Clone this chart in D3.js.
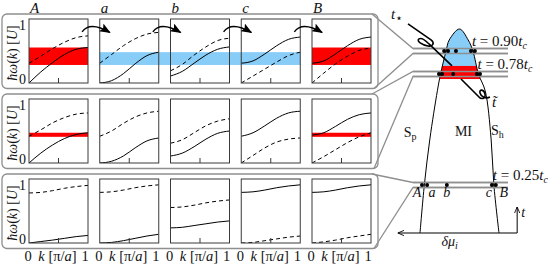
<!DOCTYPE html>
<html>
<head>
<meta charset="utf-8">
<script src="https://cdn.jsdelivr.net/npm/d3@7"></script>
<style>
  body { margin: 0; background: #fff; }
  svg { display: block; }
  text { font-family: "Liberation Serif", "DejaVu Serif", serif; fill: #111; }
</style>
</head>
<body>
<svg id="chart" width="551" height="266"></svg>
<script>
// ---- data ----
const columns = ["A", "a", "b", "c", "B"]
const rowTemps = [0.90, 0.78, 0.25]          // t / t_c of each row
const kSamples = [0, 0.2, 0.4, 0.6, 0.8, 1]  // k in units of pi/a
const yTicks = [0, 1]
const kTicks = [0, 1]

// solid branch, rows top to bottom, one list per column
const solidRows = [
  [[0, 0.19, 0.35, 0.49, 0.58, 0.61], [0, 0.04, 0.16, 0.33, 0.47, 0.53], [0.12, 0.20, 0.34, 0.48, 0.58, 0.62], [0.34, 0.38, 0.50, 0.64, 0.75, 0.79], [0.34, 0.38, 0.50, 0.64, 0.75, 0.79]],
  [[0, 0.17, 0.31, 0.42, 0.49, 0.52], [0, 0.03, 0.12, 0.26, 0.38, 0.43], [0.12, 0.17, 0.28, 0.41, 0.51, 0.55], [0.46, 0.52, 0.64, 0.77, 0.86, 0.89], [0.48, 0.52, 0.63, 0.75, 0.83, 0.86]],
  [[0, 0.025, 0.05, 0.08, 0.11, 0.13], [0, 0.01, 0.04, 0.08, 0.12, 0.15], [0.26, 0.27, 0.30, 0.33, 0.36, 0.38], [0.87, 0.88, 0.91, 0.95, 0.98, 1.0], [0.87, 0.88, 0.91, 0.95, 0.98, 1.0]]
]
// dashed branch
const dashedRows = [
  [[0.34, 0.46, 0.59, 0.70, 0.78, 0.81], [0.34, 0.49, 0.64, 0.76, 0.84, 0.87], [0.21, 0.32, 0.48, 0.62, 0.73, 0.77], [0, 0.12, 0.24, 0.36, 0.47, 0.53], [0, 0.17, 0.33, 0.46, 0.56, 0.60]],
  [[0.46, 0.57, 0.69, 0.78, 0.84, 0.86], [0.46, 0.55, 0.68, 0.79, 0.86, 0.89], [0.34, 0.40, 0.52, 0.64, 0.72, 0.76], [0, 0.13, 0.26, 0.36, 0.41, 0.43], [0, 0.11, 0.23, 0.35, 0.45, 0.52]],
  [[0.86, 0.87, 0.90, 0.94, 0.97, 0.99], [0.87, 0.88, 0.91, 0.95, 0.98, 1.0], [0.61, 0.62, 0.65, 0.69, 0.72, 0.74], [0, 0.01, 0.04, 0.07, 0.10, 0.12], [0, 0.02, 0.05, 0.09, 0.12, 0.15]]
]
// red band (columns A and B) per row, blue band (columns a..c) in top row
const redBands = [[0.31, 0.61], [0.45, 0.52], null]
const blueBand = [0.31, 0.53]

// phase diagram: boundaries in (delta mu, t/t_c)
const boundaryT = [0, 0.25, 0.47, 0.70, 0.78, 0.90, 0.95, 1.0]
const leftMu = [-1.0, -0.89, -0.75, -0.56, -0.48, -0.34, -0.26, 0]
const rightMu = [1.0, 0.87, 0.80, 0.65, 0.48, 0.34, 0.22, 0]
const tStar = 0.822
const tTilde = 0.756
// dots A a b c B on each cut
const dotMu = [
  [-0.39, -0.29, -0.09, 0.29, 0.39],
  [-0.52, -0.44, -0.16, 0.44, 0.52],
  [-0.95, -0.82, -0.32, 0.82, 0.92]
]

// ---- layout ----
const svg = d3.select("#chart")
svg.append("rect").attr("width", 551).attr("height", 266).attr("fill", "#fff")

const panelW = 59
const panelH = 64
const colX = d3.scaleLinear().domain([0, 4]).range([29, 312])
const rowY = [19, 99, 179]
const grey = "#8f8f8f"

const muX = d3.scaleLinear().domain([-1, 1]).range([420, 499])
const ty = d3.scaleLinear().domain([0, 0.25, 0.78, 0.90, 1]).range([233, 185, 74, 51, 29])
const rightEdge = d3.scaleLinear().domain(boundaryT).range(rightMu)

const defs = svg.append("defs")
defs.append("marker")
  .attr("id", "head")
  .attr("viewBox", "0 0 10 8")
  .attr("refX", 9).attr("refY", 4)
  .attr("markerWidth", 11).attr("markerHeight", 9)
  .attr("markerUnits", "userSpaceOnUse")
  .attr("orient", "auto")
  .append("path").attr("d", "M0,0 L10,4 L0,8 L2,4 Z").attr("fill", "#000")
defs.append("marker")
  .attr("id", "small")
  .attr("viewBox", "0 0 8 8")
  .attr("refX", 7).attr("refY", 4)
  .attr("markerWidth", 7).attr("markerHeight", 7)
  .attr("markerUnits", "userSpaceOnUse")
  .attr("orient", "auto")
  .append("path").attr("d", "M0,1 L7,4 L0,7").attr("fill", "none").attr("stroke", "#000").attr("stroke-width", 1)

// ---- row boxes and connectors ----
rowTemps.forEach((t, r) => {
  const top = rowY[r] - 5
  const bot = rowY[r] + panelH + 5.5
  svg.append("rect")
    .attr("x", 2).attr("y", top)
    .attr("width", 376).attr("height", bot - top)
    .attr("rx", 5)
    .attr("fill", "none").attr("stroke", grey).attr("stroke-width", 1.3)
  const yc = ty(t)
  svg.append("path")
    .attr("d", `M372,${top} L413,${yc - 2.5} L508,${yc - 2.5} M374,${bot} L413,${yc + 2.5} L508,${yc + 2.5}`)
    .attr("fill", "none").attr("stroke", grey).attr("stroke-width", 1.3)
})

// ---- phase diagram ----
const domePts = boundaryT.map((t, i) => [leftMu[i], t])
  .concat(boundaryT.slice(0, -1).map((t, i) => [rightMu[i], t]).reverse())
const domeLine = d3.line()
  .x(d => muX(d[0]))
  .y(d => ty(d[1]))
  .curve(d3.curveCatmullRom.alpha(0.5))

defs.append("clipPath").attr("id", "dome")
  .append("path").attr("d", domeLine(domePts) + "Z")

const fills = svg.append("g").attr("clip-path", "url(#dome)")
fills.append("rect")
  .attr("x", muX(-1.2)).attr("width", muX(1.2) - muX(-1.2))
  .attr("y", ty(1.0) - 2).attr("height", ty(tStar) - ty(1.0) + 2)
  .attr("fill", "#87cdf7")
fills.append("rect")
  .attr("x", muX(-1.2)).attr("width", muX(1.2) - muX(-1.2))
  .attr("y", ty(tStar)).attr("height", ty(tTilde) - ty(tStar))
  .attr("fill", "#ff0000")

svg.append("path")
  .attr("d", domeLine(domePts))
  .attr("fill", "none").attr("stroke", "#000").attr("stroke-width", 1)

// redraw the cut lines over the fills
rowTemps.forEach(t => {
  const yc = ty(t)
  svg.append("path")
    .attr("d", `M413,${yc - 2.5} L508,${yc - 2.5} M413,${yc + 2.5} L508,${yc + 2.5}`)
    .attr("stroke", grey).attr("stroke-width", 1.3)
})

rowTemps.forEach((t, r) => {
  svg.append("g").selectAll("circle")
    .data(dotMu[r])
    .join("circle")
    .attr("cx", d => muX(d))
    .attr("cy", ty(t))
    .attr("r", 2)
    .attr("fill", "#000")

  const lab = svg.append("text")
    .attr("x", muX(rightEdge(t)) - 1)
    .attr("y", ty(t) - 5)
    .attr("font-size", 15)
  lab.append("tspan").attr("font-style", "italic").text("t")
  lab.append("tspan").text(" = " + t.toFixed(2))
  lab.append("tspan").attr("font-style", "italic").text("t")
  lab.append("tspan").attr("font-style", "italic").attr("font-size", 10).attr("dy", 3).text("c")
})

// letters under the bottom cut
const cutLabelDx = [-5, 5, 0, -3, 8]
svg.append("g").selectAll("text")
  .data(columns)
  .join("text")
  .attr("x", (d, i) => muX(dotMu[2][i]) + cutLabelDx[i])
  .attr("y", ty(0.25) + 12)
  .attr("text-anchor", "middle")
  .attr("font-size", 14)
  .attr("font-style", "italic")
  .text(d => d)

// axes arrows
svg.append("line")
  .attr("x1", muX(1.46)).attr("y1", ty(0))
  .attr("x2", muX(-1.56)).attr("y2", ty(0))
  .attr("stroke", "#000").attr("stroke-width", 1)
  .attr("marker-end", "url(#small)")
svg.append("line")
  .attr("x1", muX(1.46)).attr("y1", ty(0))
  .attr("x2", muX(1.46)).attr("y2", ty(0) - 26)
  .attr("stroke", "#000").attr("stroke-width", 1)
  .attr("marker-end", "url(#small)")
svg.append("text")
  .attr("x", muX(1.46) + 4).attr("y", ty(0) - 16)
  .attr("font-size", 14).attr("font-style", "italic").text("t")
const dmu = svg.append("text")
  .attr("x", muX(-0.25)).attr("y", ty(0) + 13)
  .attr("text-anchor", "middle").attr("font-size", 14)
dmu.append("tspan").attr("font-style", "italic").text("δμ")
dmu.append("tspan").attr("font-style", "italic").attr("font-size", 10).attr("dy", 3).text("i")

// region names
const sp = svg.append("text").attr("x", muX(-1.25)).attr("y", ty(0.5) + 4).attr("text-anchor", "middle").attr("font-size", 14)
sp.append("tspan").text("S")
sp.append("tspan").attr("font-size", 10).attr("dy", 3).text("p")
svg.append("text").attr("x", muX(0.1)).attr("y", ty(0.51) + 5).attr("text-anchor", "middle").attr("font-size", 14).text("MI")
const sh = svg.append("text").attr("x", muX(0.96)).attr("y", ty(0.51) + 4).attr("text-anchor", "middle").attr("font-size", 14)
sh.append("tspan").text("S")
sh.append("tspan").attr("font-size", 10).attr("dy", 3).text("h")

// curly leaders for t_star and t_tilde
const ys = ty(tStar), yt = ty(tTilde)
svg.append("path")
  .attr("d", `M408,${ys - 42} L431,${ys - 26} C435,${ys - 23} 433,${ys - 19} 428,${ys - 20} C422,${ys - 21} 416,${ys - 25} 419,${ys - 27} C422,${ys - 29} 426,${ys - 25} 429,${ys - 22} L452,${ys}`)
  .attr("fill", "none").attr("stroke", "#000").attr("stroke-width", 1.6)
svg.append("path")
  .attr("d", `M461,${yt} L478,${yt + 17} C481,${yt + 21} 486,${yt + 20} 485,${yt + 15} C484,${yt + 10} 479,${yt + 10} 480,${yt + 14} C481,${yt + 18} 486,${yt + 20} 490,${yt + 18}`)
  .attr("fill", "none").attr("stroke", "#000").attr("stroke-width", 1.6)
const tst = svg.append("text").attr("x", 391).attr("y", ys - 47).attr("font-size", 15)
tst.append("tspan").attr("font-style", "italic").text("t")
tst.append("tspan").attr("font-size", 12).attr("dy", 3).attr("font-family", "DejaVu Sans").text("⋆")
svg.append("text").attr("x", 492).attr("y", yt + 28).attr("font-size", 15).attr("font-style", "italic").text("t\u0303")

// ---- dispersion panels ----
// blue band across a..c in top row
{
  const vy = d3.scaleLinear().domain([0, 1.1]).range([rowY[0] + panelH, rowY[0]])
  svg.append("rect")
    .attr("x", colX(1)).attr("width", colX(3) + panelW - colX(1))
    .attr("y", vy(blueBand[1])).attr("height", vy(blueBand[0]) - vy(blueBand[1]))
    .attr("fill", "#87cdf7")
}

rowY.forEach((y0, r) => {
  const vy = d3.scaleLinear().domain([0, 1.1]).range([y0 + panelH, y0])
  columns.forEach((name, c) => {
    const x0 = colX(c)
    const kx = d3.scaleLinear().domain([0, 1]).range([x0, x0 + panelW])
    const g = svg.append("g")
    const clipId = `clip${r}${c}`
    defs.append("clipPath").attr("id", clipId)
      .append("rect").attr("x", x0).attr("y", y0).attr("width", panelW).attr("height", panelH)

    if (redBands[r] && (c === 0 || c === 4)) {
      g.append("rect")
        .attr("x", x0).attr("width", panelW)
        .attr("y", vy(redBands[r][1])).attr("height", vy(redBands[r][0]) - vy(redBands[r][1]))
        .attr("fill", "#ff0000")
    }

    const line = d3.line()
      .x((d, i) => kx(kSamples[i]))
      .y(d => vy(d))
      .curve(d3.curveMonotoneX)
    const curves = g.append("g").attr("clip-path", `url(#${clipId})`)
    curves.append("path")
      .attr("d", line(solidRows[r][c]))
      .attr("fill", "none").attr("stroke", "#000").attr("stroke-width", 1)
    curves.append("path")
      .attr("d", line(dashedRows[r][c]))
      .attr("fill", "none").attr("stroke", "#000").attr("stroke-width", 1)
      .attr("stroke-dasharray", "4,3")

    g.append("rect")
      .attr("x", x0).attr("y", y0).attr("width", panelW).attr("height", panelH)
      .attr("fill", "none").attr("stroke", "#3a3a3a").attr("stroke-width", 1)
    g.append("line")
      .attr("x1", kx(0.5)).attr("x2", kx(0.5))
      .attr("y1", y0 + panelH).attr("y2", y0 + panelH - 5)
      .attr("stroke", "#3a3a3a").attr("stroke-width", 1)

    if (r === 0) {
      g.append("text")
        .attr("x", x0 + 1).attr("y", 13)
        .attr("font-size", 15).attr("font-style", "italic")
        .text(name)
    }
    if (r === 2) {
      g.selectAll(".kt").data(kTicks).join("text")
        .attr("x", d => kx(d) + (d === 0 ? -1 : -3))
        .attr("y", 261)
        .attr("text-anchor", "middle")
        .attr("font-size", 14.5)
        .text(d => d)
      const kl = g.append("text")
        .attr("x", kx(0.5) - 1).attr("y", 261)
        .attr("text-anchor", "middle").attr("font-size", 14.5)
      kl.append("tspan").attr("font-style", "italic").text("k")
      kl.append("tspan").text(" [π/")
      kl.append("tspan").attr("font-style", "italic").text("a")
      kl.append("tspan").text("]")
    }
  })

  // y labels on the left of column A
  svg.append("g").selectAll("text").data(yTicks).join("text")
    .attr("x", 26)
    .attr("y", d => vy(d) + (d === 0 ? 1 : 5))
    .attr("text-anchor", "end")
    .attr("font-size", 14)
    .text(d => d)
  const yl = svg.append("text")
    .attr("transform", `translate(17,${y0 + panelH / 2 + 2}) rotate(-90)`)
    .attr("text-anchor", "middle")
    .attr("font-size", 14)
  yl.append("tspan").attr("font-style", "italic").text("ħω")
  yl.append("tspan").text("(")
  yl.append("tspan").attr("font-style", "italic").text("k")
  yl.append("tspan").text(") [")
  yl.append("tspan").attr("font-style", "italic").text("U")
  yl.append("tspan").text("]")
})

// curved arrows between the top-row panels
{
  const vy = d3.scaleLinear().domain([0, 1.1]).range([rowY[0] + panelH, rowY[0]])
  d3.range(4).forEach(c => {
    const kx = d3.scaleLinear().domain([0, 1]).range([colX(c), colX(c) + panelW])
    const kn = d3.scaleLinear().domain([0, 1]).range([colX(c + 1), colX(c + 1) + panelW])
    const x1 = kx(0.9), y1 = vy(0.88)
    const x2 = kn(0.17), y2 = vy(0.87)
    svg.append("path")
      .attr("d", `M${x1},${y1} Q${(x1 + x2) / 2 - 6},${y1 - 11} ${x2},${y2}`)
      .attr("fill", "none").attr("stroke", "#000").attr("stroke-width", 1.4)
      .attr("marker-end", "url(#head)")
  })
}
</script>
</body>
</html>
